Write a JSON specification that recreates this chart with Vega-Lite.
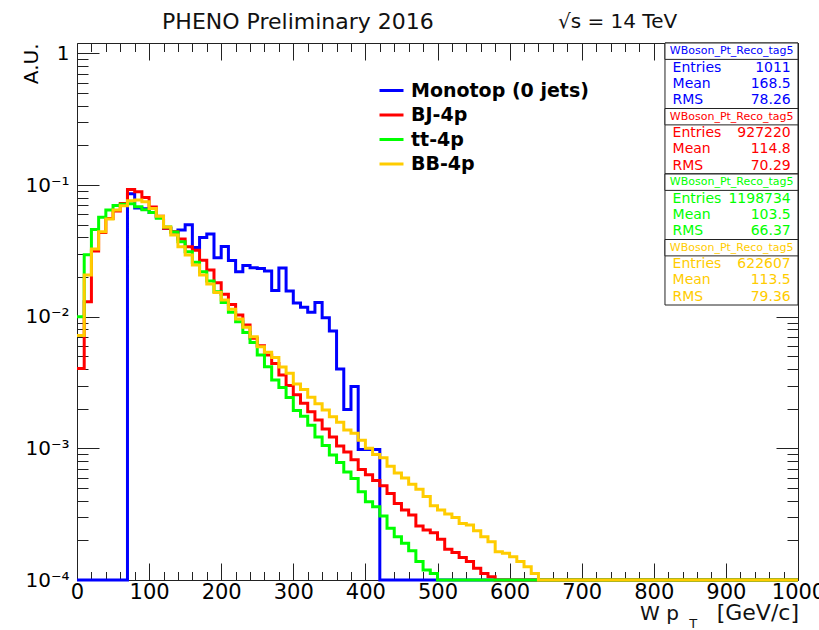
{
  "$schema": "https://vega.github.io/schema/vega-lite/v6.json",
  "width": 721,
  "height": 537,
  "autosize": {"type": "none"},
  "padding": {"left": 77, "top": 43, "right": 21, "bottom": 50},
  "background": "white",
  "config": {
    "view": {"stroke": null},
    "font": "DejaVu Sans",
    "axis": {"labelFont": "DejaVu Sans", "labelFontSize": 20, "labelColor": "#000", "domainColor": "#222", "domainWidth": 1, "tickColor": "#222", "tickWidth": 1, "grid": false, "labelFlush": false, "labelOverlap": false, "labelBound": false, "titleFont": "DejaVu Sans", "titleFontWeight": "normal", "titleColor": "#000"},
    "legend": {"labelFont": "DejaVu Sans", "labelFontSize": 19, "labelFontWeight": "bold", "labelColor": "#000", "symbolStrokeWidth": 3, "symbolSize": 576, "labelOffset": 6, "rowPadding": 0.5, "padding": 0, "labelLimit": 400}
  },
  "datasets": {
    "hist": [
      {"pt":0,"mono":0.0001,"bj":0.00405,"tt":0.01,"bb":0.0072},
      {"pt":10,"mono":0.0001,"bj":0.013,"tt":0.0295,"bb":0.0207},
      {"pt":20,"mono":0.0001,"bj":0.0316,"tt":0.046,"bb":0.0327},
      {"pt":30,"mono":0.0001,"bj":0.0437,"tt":0.057,"bb":0.0442},
      {"pt":40,"mono":0.0001,"bj":0.0558,"tt":0.0646,"bb":0.0552},
      {"pt":50,"mono":0.0001,"bj":0.0635,"tt":0.07,"bb":0.0646},
      {"pt":60,"mono":0.0001,"bj":0.0726,"tt":0.0715,"bb":0.0697},
      {"pt":70,"mono":0.086,"bj":0.0927,"tt":0.072,"bb":0.076},
      {"pt":80,"mono":0.067,"bj":0.089,"tt":0.0685,"bb":0.077},
      {"pt":90,"mono":0.066,"bj":0.0806,"tt":0.065,"bb":0.0747},
      {"pt":100,"mono":0.062,"bj":0.068,"tt":0.062,"bb":0.0665},
      {"pt":110,"mono":0.057,"bj":0.058,"tt":0.056,"bb":0.058},
      {"pt":120,"mono":0.047,"bj":0.047,"tt":0.048,"bb":0.048},
      {"pt":130,"mono":0.044,"bj":0.0442,"tt":0.044,"bb":0.0417},
      {"pt":140,"mono":0.0455,"bj":0.039,"tt":0.0371,"bb":0.034},
      {"pt":150,"mono":0.05,"bj":0.034,"tt":0.0311,"bb":0.0294},
      {"pt":160,"mono":0.0335,"bj":0.032,"tt":0.0259,"bb":0.0247},
      {"pt":170,"mono":0.04,"bj":0.0269,"tt":0.022,"bb":0.0207},
      {"pt":180,"mono":0.0425,"bj":0.0226,"tt":0.0187,"bb":0.0177},
      {"pt":190,"mono":0.028,"bj":0.0181,"tt":0.0155,"bb":0.0153},
      {"pt":200,"mono":0.0342,"bj":0.0148,"tt":0.01285,"bb":0.0134},
      {"pt":210,"mono":0.0267,"bj":0.0124,"tt":0.0108,"bb":0.0114},
      {"pt":220,"mono":0.022,"bj":0.0103,"tt":0.00916,"bb":0.0096},
      {"pt":230,"mono":0.0245,"bj":0.00865,"tt":0.0076,"bb":0.0083},
      {"pt":240,"mono":0.0235,"bj":0.00686,"tt":0.00638,"bb":0.00705},
      {"pt":250,"mono":0.0232,"bj":0.00603,"tt":0.00512,"bb":0.00592},
      {"pt":260,"mono":0.0222,"bj":0.00512,"tt":0.00417,"bb":0.00537},
      {"pt":270,"mono":0.0158,"bj":0.00442,"tt":0.0033,"bb":0.00491},
      {"pt":280,"mono":0.0234,"bj":0.0036,"tt":0.0029,"bb":0.00415},
      {"pt":290,"mono":0.0157,"bj":0.003,"tt":0.00243,"bb":0.00372},
      {"pt":300,"mono":0.0127,"bj":0.00255,"tt":0.00194,"bb":0.00308},
      {"pt":310,"mono":0.0118,"bj":0.0022,"tt":0.00175,"bb":0.0028},
      {"pt":320,"mono":0.0108,"bj":0.0019,"tt":0.0015,"bb":0.00244},
      {"pt":330,"mono":0.0128,"bj":0.00164,"tt":0.00122,"bb":0.00218},
      {"pt":340,"mono":0.0098,"bj":0.0014,"tt":0.00105,"bb":0.00196},
      {"pt":350,"mono":0.0078,"bj":0.00122,"tt":0.00089,"bb":0.00174},
      {"pt":360,"mono":0.004,"bj":0.00104,"tt":0.00078,"bb":0.00158},
      {"pt":370,"mono":0.00197,"bj":0.00094,"tt":0.00066,"bb":0.00138},
      {"pt":380,"mono":0.00295,"bj":0.00082,"tt":0.00059,"bb":0.0013},
      {"pt":390,"mono":0.00098,"bj":0.00069,"tt":0.000468,"bb":0.00115},
      {"pt":400,"mono":0.00098,"bj":0.00063,"tt":0.000393,"bb":0.001},
      {"pt":410,"mono":0.00098,"bj":0.00057,"tt":0.00036,"bb":0.0009},
      {"pt":420,"mono":0.0001,"bj":0.00052,"tt":0.000306,"bb":0.00085},
      {"pt":430,"mono":0.0001,"bj":0.000455,"tt":0.000247,"bb":0.00073},
      {"pt":440,"mono":0.0001,"bj":0.000382,"tt":0.000213,"bb":0.00065},
      {"pt":450,"mono":0.0001,"bj":0.00034,"tt":0.00019,"bb":0.000595},
      {"pt":460,"mono":0.0001,"bj":0.000312,"tt":0.000167,"bb":0.000533},
      {"pt":470,"mono":0.0001,"bj":0.000257,"tt":0.000138,"bb":0.000489},
      {"pt":480,"mono":0.0001,"bj":0.00024,"tt":0.000119,"bb":0.00043},
      {"pt":490,"mono":0.0001,"bj":0.000229,"tt":0.000112,"bb":0.000367},
      {"pt":500,"mono":0.0001,"bj":0.000204,"tt":0.0001,"bb":0.00034},
      {"pt":510,"mono":0.0001,"bj":0.000171,"tt":0.0001,"bb":0.000317},
      {"pt":520,"mono":0.0001,"bj":0.000162,"tt":0.0001,"bb":0.000299},
      {"pt":530,"mono":0.0001,"bj":0.000148,"tt":0.0001,"bb":0.000269},
      {"pt":540,"mono":0.0001,"bj":0.000138,"tt":0.0001,"bb":0.000262},
      {"pt":550,"mono":0.0001,"bj":0.000123,"tt":0.0001,"bb":0.000237},
      {"pt":560,"mono":0.0001,"bj":0.000112,"tt":0.0001,"bb":0.000213},
      {"pt":570,"mono":0.0001,"bj":0.000106,"tt":0.0001,"bb":0.000195},
      {"pt":580,"mono":0.0001,"bj":0.0001,"tt":0.0001,"bb":0.000164},
      {"pt":590,"mono":0.0001,"bj":0.0001,"tt":0.0001,"bb":0.00016},
      {"pt":600,"mono":0.0001,"bj":0.0001,"tt":0.0001,"bb":0.00015},
      {"pt":610,"mono":0.0001,"bj":0.0001,"tt":0.0001,"bb":0.000138},
      {"pt":620,"mono":0.0001,"bj":0.0001,"tt":0.0001,"bb":0.000126},
      {"pt":630,"mono":0.0001,"bj":0.0001,"tt":0.0001,"bb":0.000112},
      {"pt":640,"mono":0.0001,"bj":0.0001,"tt":0.0001,"bb":0.0001},
      {"pt":650,"mono":0.0001,"bj":0.0001,"tt":0.0001,"bb":0.0001},
      {"pt":660,"mono":0.0001,"bj":0.0001,"tt":0.0001,"bb":0.0001},
      {"pt":670,"mono":0.0001,"bj":0.0001,"tt":0.0001,"bb":0.0001},
      {"pt":680,"mono":0.0001,"bj":0.0001,"tt":0.0001,"bb":0.0001},
      {"pt":690,"mono":0.0001,"bj":0.0001,"tt":0.0001,"bb":0.0001},
      {"pt":700,"mono":0.0001,"bj":0.0001,"tt":0.0001,"bb":0.0001},
      {"pt":710,"mono":0.0001,"bj":0.0001,"tt":0.0001,"bb":0.0001},
      {"pt":720,"mono":0.0001,"bj":0.0001,"tt":0.0001,"bb":0.0001},
      {"pt":730,"mono":0.0001,"bj":0.0001,"tt":0.0001,"bb":0.0001},
      {"pt":740,"mono":0.0001,"bj":0.0001,"tt":0.0001,"bb":0.0001},
      {"pt":750,"mono":0.0001,"bj":0.0001,"tt":0.0001,"bb":0.0001},
      {"pt":760,"mono":0.0001,"bj":0.0001,"tt":0.0001,"bb":0.0001},
      {"pt":770,"mono":0.0001,"bj":0.0001,"tt":0.0001,"bb":0.0001},
      {"pt":780,"mono":0.0001,"bj":0.0001,"tt":0.0001,"bb":0.0001},
      {"pt":790,"mono":0.0001,"bj":0.0001,"tt":0.0001,"bb":0.0001},
      {"pt":800,"mono":0.0001,"bj":0.0001,"tt":0.0001,"bb":0.0001},
      {"pt":810,"mono":0.0001,"bj":0.0001,"tt":0.0001,"bb":0.0001},
      {"pt":820,"mono":0.0001,"bj":0.0001,"tt":0.0001,"bb":0.0001},
      {"pt":830,"mono":0.0001,"bj":0.0001,"tt":0.0001,"bb":0.0001},
      {"pt":840,"mono":0.0001,"bj":0.0001,"tt":0.0001,"bb":0.0001},
      {"pt":850,"mono":0.0001,"bj":0.0001,"tt":0.0001,"bb":0.0001},
      {"pt":860,"mono":0.0001,"bj":0.0001,"tt":0.0001,"bb":0.0001},
      {"pt":870,"mono":0.0001,"bj":0.0001,"tt":0.0001,"bb":0.0001},
      {"pt":880,"mono":0.0001,"bj":0.0001,"tt":0.0001,"bb":0.0001},
      {"pt":890,"mono":0.0001,"bj":0.0001,"tt":0.0001,"bb":0.0001},
      {"pt":900,"mono":0.0001,"bj":0.0001,"tt":0.0001,"bb":0.0001},
      {"pt":910,"mono":0.0001,"bj":0.0001,"tt":0.0001,"bb":0.0001},
      {"pt":920,"mono":0.0001,"bj":0.0001,"tt":0.0001,"bb":0.0001},
      {"pt":930,"mono":0.0001,"bj":0.0001,"tt":0.0001,"bb":0.0001},
      {"pt":940,"mono":0.0001,"bj":0.0001,"tt":0.0001,"bb":0.0001},
      {"pt":950,"mono":0.0001,"bj":0.0001,"tt":0.0001,"bb":0.0001},
      {"pt":960,"mono":0.0001,"bj":0.0001,"tt":0.0001,"bb":0.0001},
      {"pt":970,"mono":0.0001,"bj":0.0001,"tt":0.0001,"bb":0.0001},
      {"pt":980,"mono":0.0001,"bj":0.0001,"tt":0.0001,"bb":0.0001},
      {"pt":990,"mono":0.0001,"bj":0.0001,"tt":0.0001,"bb":0.0001},
      {"pt":1000,"mono":0.0001,"bj":0.0001,"tt":0.0001,"bb":0.0001}
    ],
    "stats": [
      {"series":"Monotop (0 jets)","line":"0","label":"WBoson_Pt_Reco_tag5","value":""},
      {"series":"Monotop (0 jets)","line":"1","label":"Entries","value":"1011"},
      {"series":"Monotop (0 jets)","line":"2","label":"Mean","value":"168.5"},
      {"series":"Monotop (0 jets)","line":"3","label":"RMS","value":"78.26"},
      {"series":"BJ-4p","line":"0","label":"WBoson_Pt_Reco_tag5","value":""},
      {"series":"BJ-4p","line":"1","label":"Entries","value":"927220"},
      {"series":"BJ-4p","line":"2","label":"Mean","value":"114.8"},
      {"series":"BJ-4p","line":"3","label":"RMS","value":"70.29"},
      {"series":"tt-4p","line":"0","label":"WBoson_Pt_Reco_tag5","value":""},
      {"series":"tt-4p","line":"1","label":"Entries","value":"1198734"},
      {"series":"tt-4p","line":"2","label":"Mean","value":"103.5"},
      {"series":"tt-4p","line":"3","label":"RMS","value":"66.37"},
      {"series":"BB-4p","line":"0","label":"WBoson_Pt_Reco_tag5","value":""},
      {"series":"BB-4p","line":"1","label":"Entries","value":"622607"},
      {"series":"BB-4p","line":"2","label":"Mean","value":"113.5"},
      {"series":"BB-4p","line":"3","label":"RMS","value":"79.36"}
    ]
  },
  "layer": [
    {
      "data": {"name": "hist"},
      "layer": [
        {
          "transform": [{"fold": ["mono", "bj", "tt", "bb"], "as": ["key", "val"]}],
          "mark": {"type": "line", "interpolate": "step-after", "strokeWidth": 3, "strokeJoin": "miter"},
          "encoding": {
            "x": {"field": "pt", "type": "quantitative", "scale": {"domain": [0, 1000], "nice": false, "zero": false}, "axis": null},
            "y": {"field": "val", "type": "quantitative", "scale": {"type": "log", "domain": [0.0001, 1.2], "nice": false}, "axis": null},
            "color": {"field": "key", "type": "nominal",
              "scale": {"domain": ["mono", "bj", "tt", "bb"], "range": ["#0000ff", "#ff0000", "#00ff00", "#ffcc00"]},
              "legend": {"orient": "none", "legendX": 301, "legendY": 34, "title": null, "symbolType": "stroke",
                "labelExpr": "{'mono': 'Monotop (0 jets)', 'bj': 'BJ-4p', 'tt': 'tt-4p', 'bb': 'BB-4p'}[datum.value]"}}
          }
        },
        {
          "data": {"values": [{"label": "PHENO Preliminary 2016"}]},
          "mark": {"type": "text", "align": "left", "baseline": "alphabetic", "fontSize": 22, "font": "DejaVu Sans", "color": "#111"},
          "encoding": {
            "x": {"datum": 118, "type": "quantitative",
              "axis": {"orient": "bottom", "title": null, "format": "d", "labelFontSize": 21, "tickSize": -17, "labelPadding": 18,
                "values": [0,100,200,300,400,500,600,700,800,900,1000]}},
            "y": {"datum": 1.53, "type": "quantitative",
              "axis": {"orient": "left", "title": "A.U.", "titleAngle": -90, "titleAlign": "right", "titleBaseline": "alphabetic", "titleX": -40, "titleY": 0, "titleFontSize": 20,
                "tickSize": -22, "labelPadding": 30,
                "values": [0.0001,0.001,0.01,0.1,1],
                "labelExpr": "datum.value > 0.5 ? '1' : '10⁻' + ['','¹','²','³','⁴'][round(-log(datum.value)/LN10)]"}},
            "text": {"field": "label"}
          }
        },
        {
          "data": {"values": [{"label": "√s = 14 TeV"}]},
          "mark": {"type": "text", "align": "left", "baseline": "alphabetic", "fontSize": 20, "font": "DejaVu Sans", "color": "#111"},
          "encoding": {
            "x": {"datum": 667, "type": "quantitative",
              "axis": {"orient": "bottom", "title": null, "labels": false, "domain": false, "tickSize": -8.5,
                "values": [20,40,60,80,120,140,160,180,220,240,260,280,320,340,360,380,420,440,460,480,520,540,560,580,620,640,660,680,720,740,760,780,820,840,860,880,920,940,960,980]}},
            "y": {"datum": 1.557, "type": "quantitative",
              "axis": {"orient": "left", "title": null, "labels": false, "domain": false, "tickSize": -11,
                "values": [0.0002,0.0003,0.0004,0.0005,0.0006,0.0007,0.0008,0.0009,0.002,0.003,0.004,0.005,0.006,0.007,0.008,0.009,0.02,0.03,0.04,0.05,0.06,0.07,0.08,0.09,0.2,0.3,0.4,0.5,0.6,0.7,0.8,0.9]}},
            "text": {"field": "label"}
          }
        },
        {
          "data": {"values": [{"label": "W p"}]},
          "mark": {"type": "text", "align": "left", "baseline": "alphabetic", "fontSize": 20, "font": "DejaVu Sans", "color": "#111"},
          "encoding": {
            "x": {"datum": 781, "type": "quantitative",
              "axis": {"orient": "top", "title": null, "labels": false, "tickSize": -17,
                "values": [0,100,200,300,400,500,600,700,800,900,1000]}},
            "y": {"datum": 0.0000497, "type": "quantitative",
              "axis": {"orient": "right", "title": null, "labels": false, "tickSize": -22,
                "values": [0.0001,0.001,0.01,0.1,1]}},
            "text": {"field": "label"}
          }
        },
        {
          "data": {"values": [{"label": "T"}]},
          "mark": {"type": "text", "align": "left", "baseline": "alphabetic", "fontSize": 13, "font": "DejaVu Sans", "color": "#111"},
          "encoding": {
            "x": {"datum": 849, "type": "quantitative",
              "axis": {"orient": "top", "title": null, "labels": false, "domain": false, "tickSize": -8.5,
                "values": [20,40,60,80,120,140,160,180,220,240,260,280,320,340,360,380,420,440,460,480,520,540,560,580,620,640,660,680,720,740,760,780,820,840,860,880,920,940,960,980]}},
            "y": {"datum": 0.0000435, "type": "quantitative",
              "axis": {"orient": "right", "title": null, "labels": false, "domain": false, "tickSize": -11,
                "values": [0.0002,0.0003,0.0004,0.0005,0.0006,0.0007,0.0008,0.0009,0.002,0.003,0.004,0.005,0.006,0.007,0.008,0.009,0.02,0.03,0.04,0.05,0.06,0.07,0.08,0.09,0.2,0.3,0.4,0.5,0.6,0.7,0.8,0.9]}},
            "text": {"field": "label"}
          }
        },
        {
          "data": {"values": [{"label": "[GeV/c]"}]},
          "mark": {"type": "text", "align": "right", "baseline": "alphabetic", "fontSize": 22, "font": "DejaVu Sans", "color": "#111"},
          "encoding": {
            "x": {"datum": 1001.4, "type": "quantitative", "axis": null},
            "y": {"datum": 0.0000497, "type": "quantitative", "axis": null},
            "text": {"field": "label"}
          }
        }
      ],
      "resolve": {"axis": {"x": "independent", "y": "independent"}}
    },
    {
      "data": {"name": "stats"},
      "layer": [
        {
          "transform": [{"filter": "datum.line === '0'"}],
          "mark": {"type": "rect", "fill": "white", "stroke": "#222", "strokeWidth": 1},
          "encoding": {
            "x": {"datum": 815.5, "type": "quantitative", "scale": {"domain": [0, 1000], "nice": false, "zero": false}, "axis": null},
            "x2": {"datum": 1000},
            "y": {"field": "series", "type": "nominal", "axis": null,
              "scale": {"domain": ["Monotop (0 jets)", "BJ-4p", "tt-4p", "BB-4p"], "range": [0, 262], "paddingInner": 0, "paddingOuter": 0}}
          }
        },
        {
          "transform": [{"filter": "datum.line === '0'"}],
          "mark": {"type": "rect", "fill": "white", "stroke": "#222", "strokeWidth": 1},
          "encoding": {
            "x": {"datum": 815.5, "type": "quantitative", "axis": null},
            "x2": {"datum": 1000},
            "y": {"field": "series", "type": "nominal", "axis": null},
            "yOffset": {"field": "line", "type": "nominal", "scale": {"domain": ["0", "1", "2", "3"], "paddingInner": 0, "paddingOuter": 0}}
          }
        },
        {
          "transform": [{"filter": "datum.line === '0'"}],
          "mark": {"type": "text", "align": "center", "baseline": "middle", "fontSize": 11, "font": "DejaVu Sans"},
          "encoding": {
            "x": {"datum": 908, "type": "quantitative", "axis": null},
            "y": {"field": "series", "type": "nominal", "axis": null},
            "yOffset": {"field": "line", "type": "nominal"},
            "text": {"field": "label"},
            "fill": {"field": "series", "type": "nominal", "legend": null,
              "scale": {"domain": ["Monotop (0 jets)", "BJ-4p", "tt-4p", "BB-4p"], "range": ["#0000ff", "#ff0000", "#00ff00", "#ffcc00"]}}
          }
        },
        {
          "transform": [{"filter": "datum.line !== '0'"}],
          "mark": {"type": "text", "align": "left", "baseline": "middle", "fontSize": 14, "font": "DejaVu Sans"},
          "encoding": {
            "x": {"datum": 826, "type": "quantitative", "axis": null},
            "y": {"field": "series", "type": "nominal", "axis": null},
            "yOffset": {"field": "line", "type": "nominal"},
            "text": {"field": "label"},
            "fill": {"field": "series", "type": "nominal", "legend": null}
          }
        },
        {
          "transform": [{"filter": "datum.line !== '0'"}],
          "mark": {"type": "text", "align": "right", "baseline": "middle", "fontSize": 14, "font": "DejaVu Sans"},
          "encoding": {
            "x": {"datum": 990, "type": "quantitative", "axis": null},
            "y": {"field": "series", "type": "nominal", "axis": null},
            "yOffset": {"field": "line", "type": "nominal"},
            "text": {"field": "value"},
            "fill": {"field": "series", "type": "nominal", "legend": null}
          }
        }
      ]
    }
  ],
  "resolve": {"scale": {"y": "independent", "yOffset": "independent"}, "axis": {"x": "independent", "y": "independent"}}
}
